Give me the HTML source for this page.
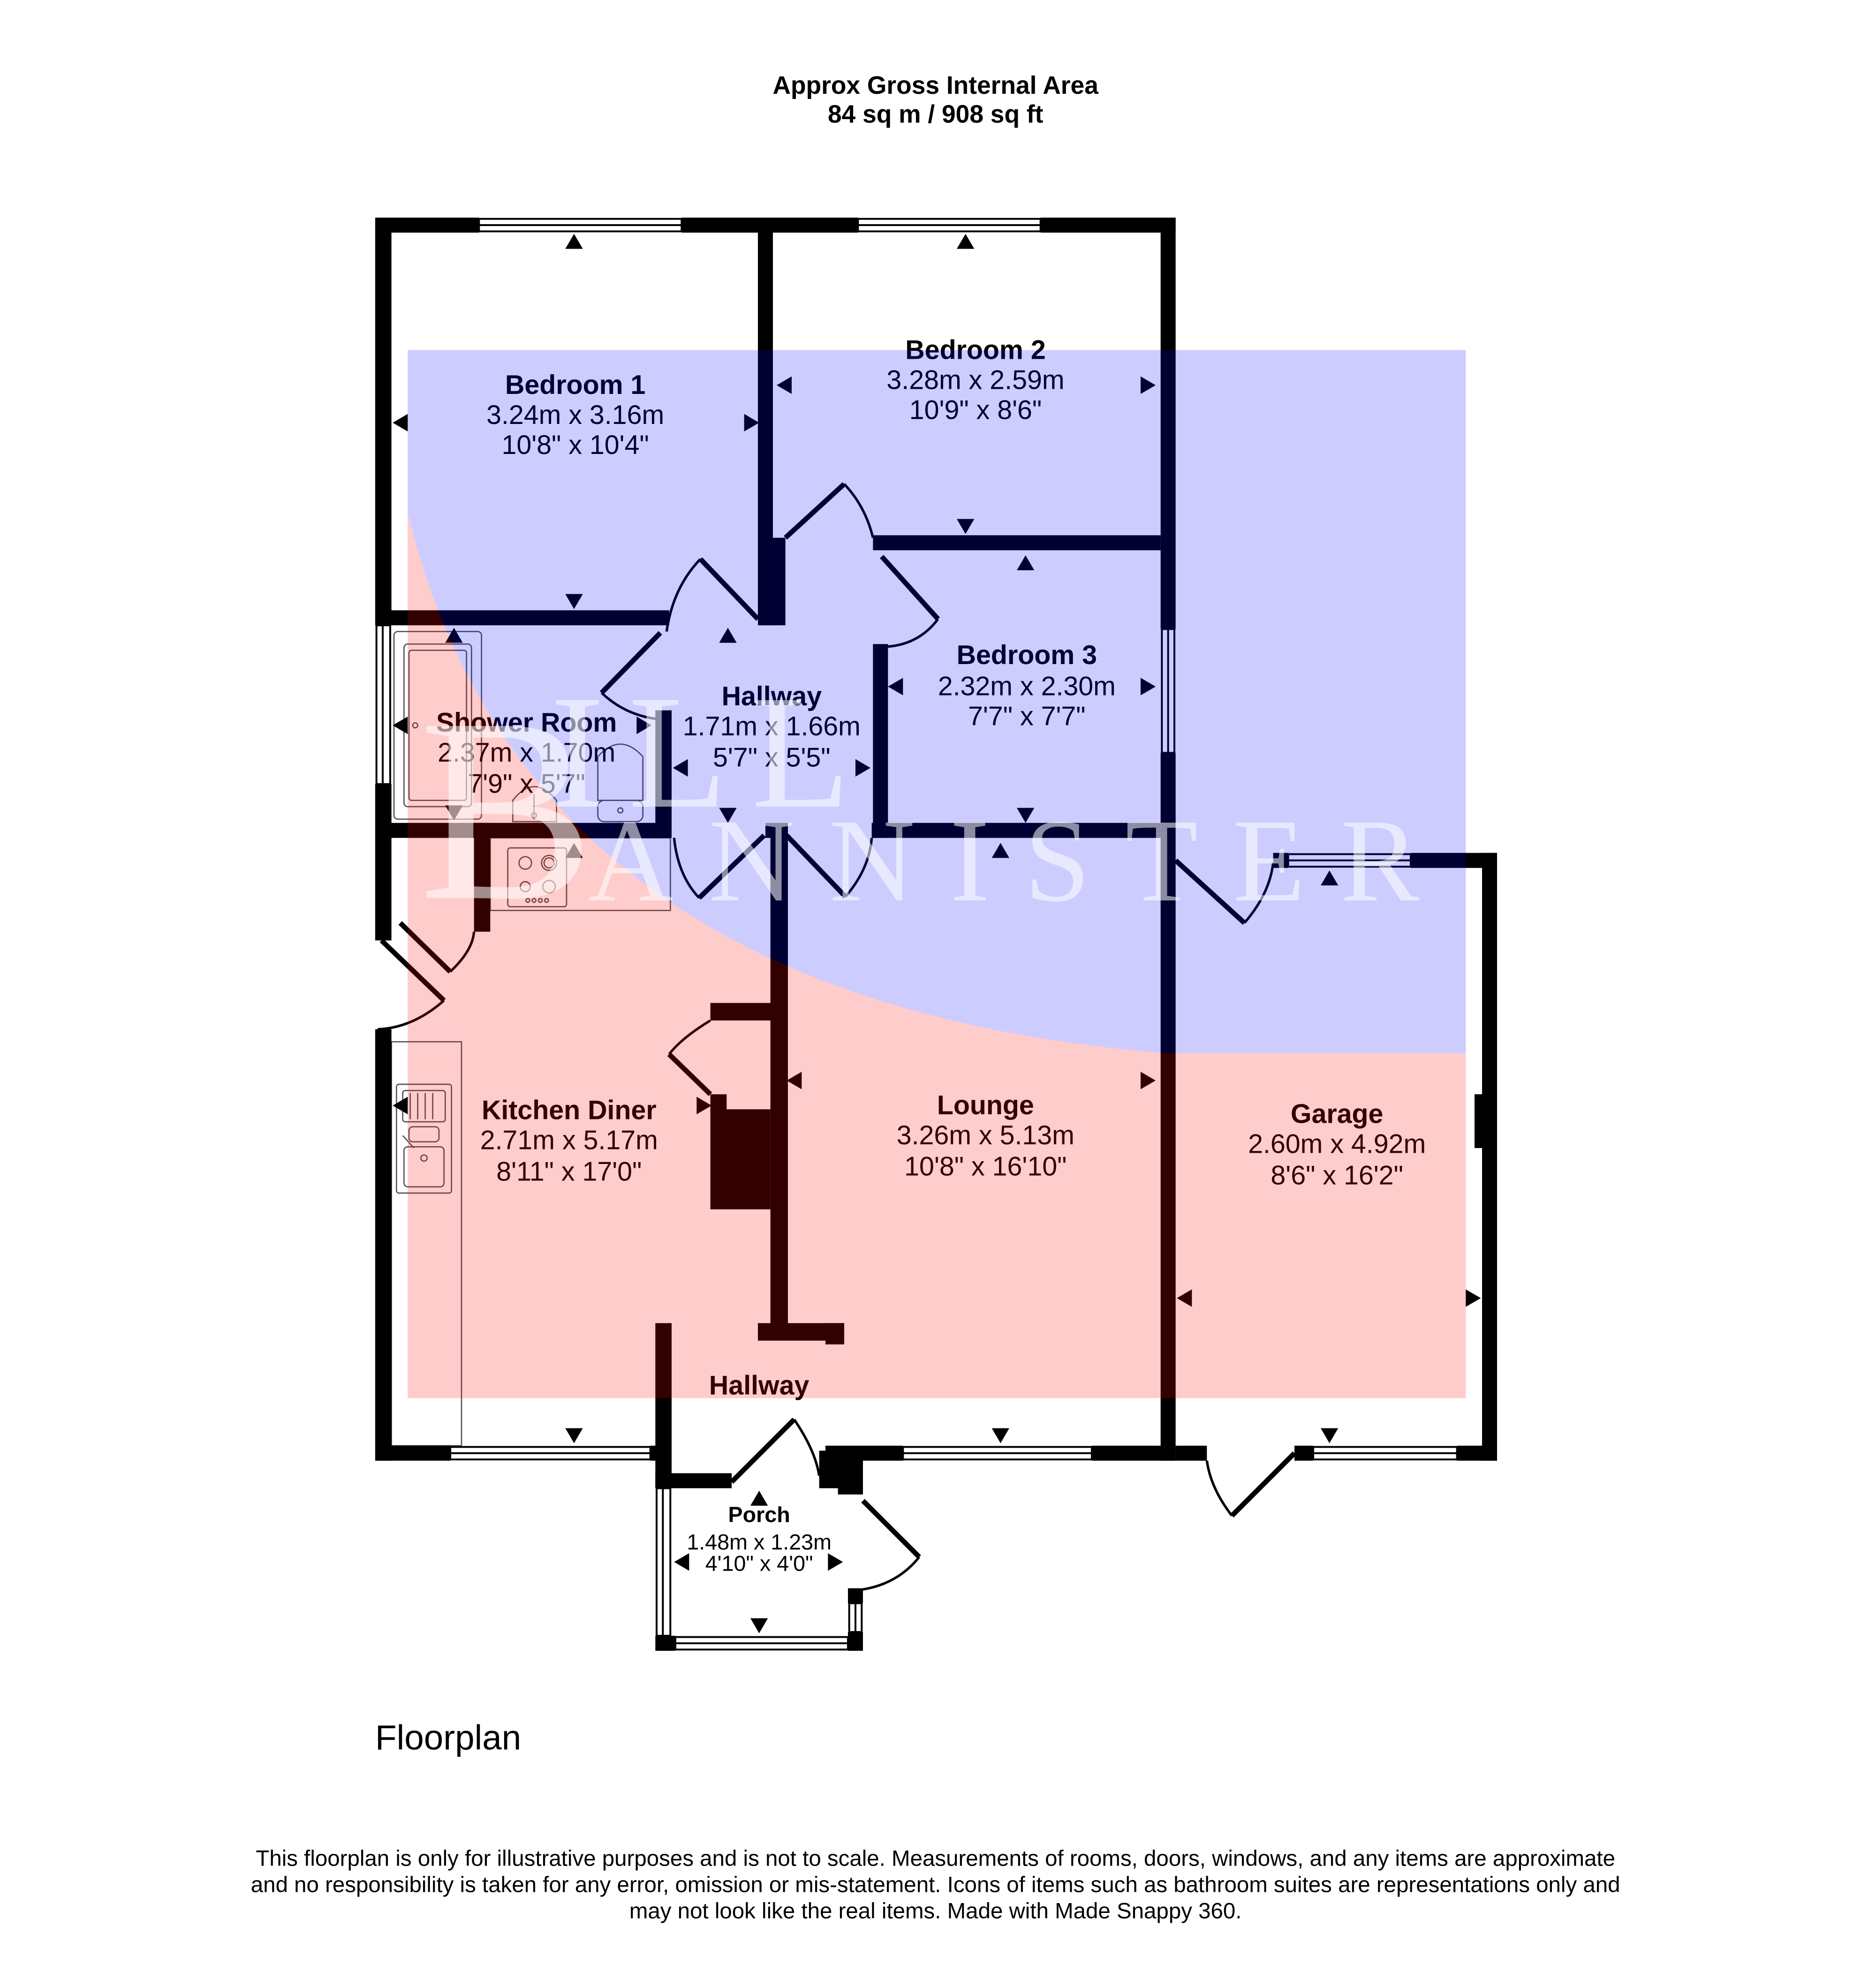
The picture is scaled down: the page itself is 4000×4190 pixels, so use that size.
<!DOCTYPE html>
<html><head><meta charset="utf-8"><style>
html,body{margin:0;padding:0;background:#fff}
svg{display:block}
text{font-family:"Liberation Sans",Arial,sans-serif;fill:#000}
.n{font-weight:bold;font-size:21.5px}
.d{font-size:21.5px}
</style></head><body>
<svg width="4000" height="4190" viewBox="0 0 1500 1571.25" xmlns="http://www.w3.org/2000/svg">
<rect width="1500" height="1572" fill="#fff"/>
<!-- fixtures -->
<g fill="none" stroke="#555" stroke-width="1">
<rect x="315" y="505" width="70" height="150" rx="3"/>
<rect x="323" y="515" width="54" height="130" rx="3"/>
<rect x="327" y="520" width="46" height="120" rx="2"/>
<circle cx="332" cy="580" r="2"/>
<path d="M410,657 L410,640 Q427,618 445,640 L445,657 Z"/>
<line x1="427" y1="635" x2="427" y2="655"/><circle cx="427" cy="652" r="2"/>
<path d="M478,640 L478,605 Q496,585 514,605 L514,640 Z"/>
<rect x="478" y="640" width="36" height="17" rx="5"/><circle cx="496" cy="648" r="2"/>
<rect x="392" y="670" width="144" height="58"/>
<rect x="406" y="678" width="47" height="47" rx="2"/>
<circle cx="420" cy="690" r="5"/><circle cx="439" cy="690" r="6"/><circle cx="439" cy="690" r="4"/>
<circle cx="420" cy="709" r="4"/><circle cx="439" cy="709" r="5"/>
<circle cx="422" cy="720" r="1.5"/><circle cx="427" cy="720" r="1.5"/><circle cx="432" cy="720" r="1.5"/><circle cx="437" cy="720" r="1.5"/>
<rect x="313" y="833" width="56" height="323"/>
<rect x="317" y="867" width="44" height="87" rx="2"/>
<rect x="322" y="872" width="34" height="25" rx="2"/>
<line x1="328" y1="874" x2="328" y2="895"/><line x1="334" y1="874" x2="334" y2="895"/><line x1="340" y1="874" x2="340" y2="895"/><line x1="346" y1="874" x2="346" y2="895"/>
<rect x="327" y="901" width="24" height="12" rx="3"/>
<rect x="323" y="917" width="32" height="32" rx="3"/>
<line x1="322" y1="908" x2="331" y2="918"/><circle cx="339" cy="926" r="2.5"/>
</g>
<!-- walls -->
<g fill="#000">
<rect x="300" y="174" width="83" height="12"/><rect x="545" y="174" width="141" height="12"/><rect x="832" y="174" width="108" height="12"/>
<rect x="300" y="174" width="13" height="326"/><rect x="300" y="627" width="13" height="125"/><rect x="300" y="823" width="13" height="345"/>
<rect x="300" y="1156" width="60" height="12"/><rect x="520" y="1156" width="17" height="12"/>
<rect x="928" y="174" width="12" height="329"/><rect x="928" y="602" width="12" height="566"/>
<rect x="606" y="174" width="12" height="326"/><rect x="612" y="430" width="16" height="70"/>
<rect x="698" y="428" width="230" height="12"/>
<rect x="312" y="488" width="223" height="12"/>
<rect x="698" y="515" width="12" height="155"/>
<rect x="524" y="568" width="13" height="102"/>
<rect x="300" y="658" width="237" height="12"/>
<rect x="379" y="658" width="13" height="87"/>
<rect x="612" y="658" width="18" height="12"/><rect x="697" y="658" width="231" height="12"/>
<rect x="616" y="658" width="14" height="402"/>
<rect x="568" y="802" width="62" height="14"/>
<rect x="568" y="887" width="48" height="80"/><rect x="568" y="875" width="13" height="14"/>
<rect x="606" y="1058" width="69" height="14"/><rect x="660" y="1058" width="15" height="17"/>
<rect x="524" y="1058" width="13" height="132"/><rect x="524" y="1178" width="61" height="12"/>
<rect x="655" y="1160" width="20" height="30"/><rect x="670" y="1160" width="20" height="35"/>
<rect x="660" y="1156" width="62" height="12"/><rect x="873" y="1156" width="67" height="12"/>
<rect x="678" y="1270" width="12" height="12"/><rect x="678" y="1305" width="12" height="15"/>
<rect x="524" y="1308" width="16" height="12"/><rect x="678" y="1308" width="12" height="12"/>
<rect x="940" y="1156" width="25" height="12"/><rect x="1035" y="1156" width="15" height="12"/><rect x="1165" y="1156" width="32" height="12"/>
<rect x="1018" y="682" width="12" height="12"/><rect x="1128" y="682" width="69" height="12"/>
<rect x="1185" y="682" width="12" height="486"/><rect x="1179" y="875" width="10" height="43"/>
</g>
<!-- windows -->
<g fill="#fff" stroke="#000" stroke-width="1.5">
<rect x="383" y="175" width="162" height="10"/><line x1="383" y1="180" x2="545" y2="180"/>
<rect x="686" y="175" width="146" height="10"/><line x1="686" y1="180" x2="832" y2="180"/>
<rect x="301" y="500" width="11" height="127"/><line x1="306" y1="500" x2="306" y2="627"/>
<rect x="929" y="503" width="10" height="99"/><line x1="934" y1="503" x2="934" y2="602"/>
<rect x="360" y="1157" width="160" height="10"/><line x1="360" y1="1162" x2="520" y2="1162"/>
<rect x="722" y="1157" width="151" height="10"/><line x1="722" y1="1162" x2="873" y2="1162"/>
<rect x="1030" y="683" width="98" height="10"/><line x1="1030" y1="688" x2="1128" y2="688"/>
<rect x="1050" y="1157" width="115" height="10"/><line x1="1050" y1="1162" x2="1165" y2="1162"/>
<rect x="525" y="1190" width="11" height="118"/><line x1="530" y1="1190" x2="530" y2="1308"/>
<rect x="540" y="1309" width="138" height="10"/><line x1="540" y1="1314" x2="678" y2="1314"/>
<rect x="679" y="1282" width="10" height="23"/><line x1="684" y1="1282" x2="684" y2="1305"/>
</g>
<!-- doors -->
<g fill="none" stroke="#000">
<g stroke-width="4">
<line x1="606" y1="495" x2="560" y2="447"/><line x1="528" y1="506" x2="481" y2="554"/>
<line x1="628" y1="430" x2="675" y2="387"/><line x1="705" y1="445" x2="750" y2="495"/>
<line x1="559" y1="718" x2="611" y2="668"/><line x1="629" y1="668" x2="676" y2="717"/>
<line x1="940" y1="688" x2="995" y2="738"/>
<line x1="305" y1="752" x2="355" y2="800"/><line x1="320" y1="738" x2="360" y2="777"/>
<line x1="568" y1="875" x2="535" y2="843"/>
<line x1="585" y1="1185" x2="635" y2="1135"/>
<line x1="690" y1="1200" x2="735" y2="1245"/>
<line x1="985" y1="1212" x2="1035" y2="1162"/>
</g>
<g stroke-width="2">
<path d="M560,447 Q538,470 533,505"/><path d="M481,554 Q500,572 526,575"/>
<path d="M675,387 Q692,405 698,430"/><path d="M750,495 Q735,515 710,517"/>
<path d="M539,670 Q542,700 559,718"/><path d="M676,717 Q695,695 697,670"/>
<path d="M995,738 Q1015,715 1018,690"/>
<path d="M355,800 Q330,822 302,823"/><path d="M360,777 Q378,760 379,745"/>
<path d="M535,843 Q545,830 568,816"/>
<path d="M635,1135 Q652,1160 655,1180"/>
<path d="M735,1245 Q715,1270 680,1272"/>
<path d="M985,1212 Q968,1190 965,1168"/>
</g>
</g>
<!-- arrows -->
<g fill="#000">
<path d="M452,199 L466,199 L459,187Z"/><path d="M326,331 L326,345 L314,338Z"/><path d="M595,331 L595,345 L607,338Z"/><path d="M452,475 L466,475 L459,487Z"/>
<path d="M765,199 L779,199 L772,187Z"/><path d="M633,301 L633,315 L621,308Z"/><path d="M912,301 L912,315 L924,308Z"/><path d="M765,415 L779,415 L772,427Z"/>
<path d="M813,456 L827,456 L820,444Z"/><path d="M722,542 L722,556 L710,549Z"/><path d="M912,542 L912,556 L924,549Z"/><path d="M813,646 L827,646 L820,658Z"/>
<path d="M575,514 L589,514 L582,502Z"/><path d="M550,607 L550,621 L538,614Z"/><path d="M684,607 L684,621 L696,614Z"/><path d="M575,646 L589,646 L582,658Z"/>
<path d="M356,514 L370,514 L363,502Z"/><path d="M326,573 L326,587 L314,580Z"/><path d="M509,573 L509,587 L521,580Z"/><path d="M356,644 L370,644 L363,656Z"/>
<path d="M452,686 L466,686 L459,674Z"/><path d="M326,877 L326,891 L314,884Z"/><path d="M557,877 L557,891 L569,884Z"/><path d="M452,1142 L466,1142 L459,1154Z"/>
<path d="M641,857 L641,871 L629,864Z"/><path d="M912,857 L912,871 L924,864Z"/><path d="M793,686 L807,686 L800,674Z"/><path d="M793,1142 L807,1142 L800,1154Z"/>
<path d="M1056,708 L1070,708 L1063,696Z"/><path d="M953,1031 L953,1045 L941,1038Z"/><path d="M1172,1031 L1172,1045 L1184,1038Z"/><path d="M1056,1142 L1070,1142 L1063,1154Z"/>
<path d="M600,1204 L614,1204 L607,1192Z"/><path d="M551,1242 L551,1256 L539,1249Z"/><path d="M662,1242 L662,1256 L674,1249Z"/><path d="M600,1294 L614,1294 L607,1306Z"/>
</g>
<!-- labels -->
<g text-anchor="middle">
<text x="748" y="75" style="font-weight:bold;font-size:20px">Approx Gross Internal Area</text>
<text x="748" y="98" style="font-weight:bold;font-size:20px">84 sq m / 908 sq ft</text>
<text class="n" x="460" y="315">Bedroom 1</text><text class="d" x="460" y="339">3.24m x 3.16m</text><text class="d" x="460" y="363">10'8" x 10'4"</text>
<text class="n" x="780" y="287">Bedroom 2</text><text class="d" x="780" y="311">3.28m x 2.59m</text><text class="d" x="780" y="335">10'9" x 8'6"</text>
<text class="n" x="821" y="531">Bedroom 3</text><text class="d" x="821" y="556">2.32m x 2.30m</text><text class="d" x="821" y="580">7'7" x 7'7"</text>
<text class="n" x="617" y="564">Hallway</text><text class="d" x="617" y="588">1.71m x 1.66m</text><text class="d" x="617" y="613">5'7" x 5'5"</text>
<text class="n" x="421" y="585">Shower Room</text><text class="d" x="421" y="609">2.37m x 1.70m</text><text class="d" x="421" y="634">7'9" x 5'7"</text>
<text class="n" x="455" y="895">Kitchen Diner</text><text class="d" x="455" y="919">2.71m x 5.17m</text><text class="d" x="455" y="944">8'11" x 17'0"</text>
<text class="n" x="788" y="891">Lounge</text><text class="d" x="788" y="915">3.26m x 5.13m</text><text class="d" x="788" y="940">10'8" x 16'10"</text>
<text class="n" x="1069" y="898">Garage</text><text class="d" x="1069" y="922">2.60m x 4.92m</text><text class="d" x="1069" y="947">8'6" x 16'2"</text>
<text class="n" x="607" y="1115">Hallway</text>
<text x="607" y="1217" style="font-weight:bold;font-size:17.5px">Porch</text>
<text x="607" y="1239" style="font-size:17.5px">1.48m x 1.23m</text>
<text x="607" y="1256" style="font-size:17.5px">4'10" x 4'0"</text>
<text x="748" y="1492" style="font-size:17.8px">This floorplan is only for illustrative purposes and is not to scale. Measurements of rooms, doors, windows, and any items are approximate</text>
<text x="748" y="1513" style="font-size:17.8px">and no responsibility is taken for any error, omission or mis-statement. Icons of items such as bathroom suites are representations only and</text>
<text x="748" y="1534" style="font-size:17.8px">may not look like the real items. Made with Made Snappy 360.</text>
</g>
<text x="300" y="1399" style="font-size:28px">Floorplan</text>
<!-- overlay -->
<path d="M326,280 L1172,280 L1172,842 L930,842 Q420,800 326,410 Z" fill="rgba(0,0,255,0.2)"/>
<path d="M326,410 Q420,800 930,842 L1172,842 L1172,1118 L326,1118 Z" fill="rgba(255,0,0,0.2)"/>
<!-- watermark -->
<text x="335" y="718" style="font-family:'Liberation Serif',serif;font-size:210px;fill:rgba(255,255,255,0.55)">B</text>
<text x="440" y="645" style="font-family:'Liberation Serif',serif;font-size:130px;fill:rgba(255,255,255,0.55)" textLength="240">ILL</text>
<text x="470" y="720" style="font-family:'Liberation Serif',serif;font-size:95px;fill:rgba(255,255,255,0.55)" textLength="665">ANNISTER</text>
</svg>
</body></html>
